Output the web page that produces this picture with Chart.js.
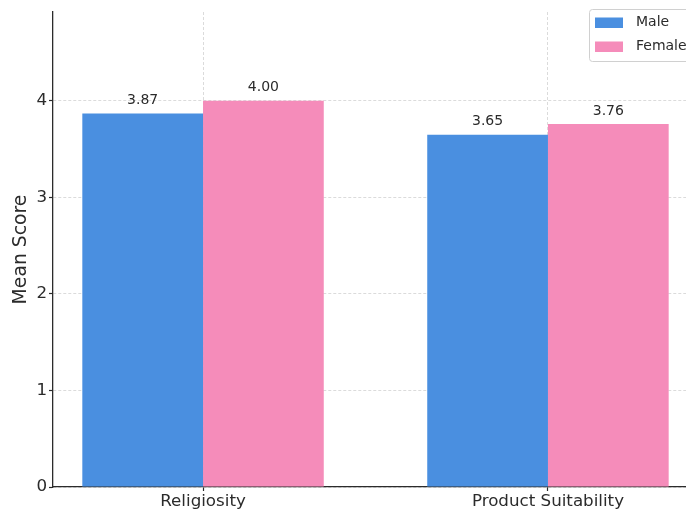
<!DOCTYPE html>
<html>
<head>
<meta charset="utf-8">
<script src="https://cdn.jsdelivr.net/npm/chart.js@4.4.1/dist/chart.umd.min.js"></script>
<style>
  html, body { margin: 0; padding: 0; background: #ffffff; overflow: hidden; }
  #wrap { position: relative; width: 720px; height: 511px; }
</style>
</head>
<body>
<div id="wrap"><canvas id="chart"></canvas></div>
<script>
// Mean scores by gender
const categories = ['Religiosity', 'Product Suitability'];
const maleScores = [3.87, 3.65];
const femaleScores = [4.00, 3.76];
const seriesNames = ['Male', 'Female'];
const yTickValues = [0, 1, 2, 3, 4];

const FONT = "'DejaVu Sans', 'Liberation Sans', sans-serif";
const BLUE = '#4a8fe0';
const PINK = '#f58cba';
const TEXT = '#2b2b2b';

const toPoints = vals => vals.map((v, i) => ({ x: i, y: v }));

// Value labels above every bar
const valueLabels = {
  id: 'valueLabels',
  afterDatasetsDraw(chart) {
    const ctx = chart.ctx;
    ctx.save();
    ctx.font = '14px ' + FONT;
    ctx.fillStyle = TEXT;
    ctx.textAlign = 'center';
    ctx.textBaseline = 'middle';
    chart.data.datasets.forEach((ds, di) => {
      const meta = chart.getDatasetMeta(di);
      meta.data.forEach((bar, i) => {
        ctx.fillText(ds.data[i].y.toFixed(2), bar.x, bar.y - 13);
      });
    });
    ctx.restore();
  }
};

// Framed legend in the upper right corner
const boxLegend = {
  id: 'boxLegend',
  afterDraw(chart) {
    const ctx = chart.ctx;
    const x0 = 589.5, y0 = 9.5, w = 120, h = 52;
    ctx.save();
    ctx.fillStyle = 'rgba(255,255,255,0.85)';
    ctx.strokeStyle = '#d0d0d0';
    ctx.lineWidth = 1;
    ctx.beginPath();
    ctx.roundRect(x0, y0, w, h, 3);
    ctx.fill();
    ctx.stroke();
    ctx.font = '14px ' + FONT;
    ctx.textAlign = 'left';
    ctx.textBaseline = 'middle';
    chart.data.datasets.forEach((ds, i) => {
      const cy = 22.5 + i * 24;
      ctx.fillStyle = ds.backgroundColor;
      ctx.fillRect(595, cy - 5, 28, 10.5);
      ctx.fillStyle = TEXT;
      ctx.fillText(ds.label, 636, cy);
    });
    ctx.restore();
  }
};

const gridStyle = {
  color: 'rgba(180,180,180,0.6)',
  lineWidth: 0.8,
  tickColor: TEXT,
  tickLength: 4,
  tickWidth: 1.2,
  tickBorderDash: []
};

new Chart(document.getElementById('chart'), {
  type: 'bar',
  data: {
    datasets: [
      { label: seriesNames[0], data: toPoints(maleScores), backgroundColor: BLUE },
      { label: seriesNames[1], data: toPoints(femaleScores), backgroundColor: PINK }
    ]
  },
  options: {
    responsive: true,
    maintainAspectRatio: false,
    animation: false,
    devicePixelRatio: 1,
    layout: { padding: { top: 9, right: 22, left: 0, bottom: 0 } },
    datasets: { bar: { barPercentage: 1, categoryPercentage: 0.7, borderWidth: 0 } },
    plugins: { legend: { display: false }, tooltip: { enabled: false } },
    scales: {
      x: {
        type: 'linear',
        offset: false,
        min: -0.435,
        max: 1.435,
        afterFit(scale) { scale.height = 24; },
        afterBuildTicks(scale) { scale.ticks = categories.map((c, i) => ({ value: i })); },
        ticks: {
          includeBounds: false,
          stepSize: 1,
          autoSkip: false,
          maxRotation: 0,
          padding: 1,
          color: TEXT,
          font: { family: FONT, size: 16.7 },
          callback: v => categories[v] ?? ''
        },
        grid: Object.assign({ offset: false }, gridStyle),
        border: { display: true, color: TEXT, width: 1.3, dash: [3, 2] }
      },
      y: {
        type: 'linear',
        min: 0,
        max: 4.92,
        afterFit(scale) { scale.width = 53; },
        afterBuildTicks(scale) { scale.ticks = yTickValues.map(v => ({ value: v })); },
        ticks: {
          includeBounds: false,
          stepSize: 1,
          padding: 2,
          color: TEXT,
          font: { family: FONT, size: 16.7 }
        },
        title: {
          display: true,
          text: 'Mean Score',
          color: TEXT,
          font: { family: FONT, size: 18.8 },
          padding: { top: 9.7, bottom: 0 }
        },
        grid: gridStyle,
        border: { display: true, color: TEXT, width: 1.3, dash: [3, 2] }
      }
    }
  },
  plugins: [valueLabels, boxLegend]
});
</script>
</body>
</html>
